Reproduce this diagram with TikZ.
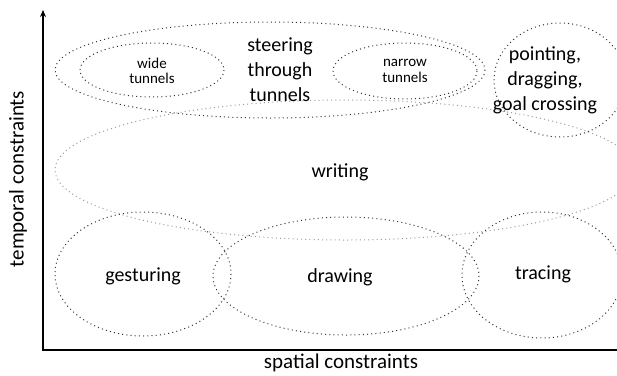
\documentclass[tikz,border=0pt]{standalone}
\usepackage{fontspec}
\setmainfont{Carlito}
\usetikzlibrary{arrows.meta}
\begin{document}
\begin{tikzpicture}[x=1pt,y=-1pt,
  blob/.style={line width=1pt,dash pattern=on 1pt off 3.2pt,draw=black!80},
  faint/.style={line width=1pt,dash pattern=on 1pt off 3.2pt,draw=black!40},
  lab/.style={font=\fontsize{20}{25}\selectfont,align=center,inner sep=0pt},
  axlab/.style={font=\fontsize{21}{25}\selectfont,inner sep=0pt},
  small/.style={font=\fontsize{15}{15.5}\selectfont,align=center,inner sep=0pt},
  axis/.style={line width=2pt}]
\useasboundingbox (0,0) rectangle (617,375);
\begin{scope}
\clip (0,0) rectangle (617,375);
% ellipses
\draw[faint] (345,170) ellipse [x radius=290, y radius=70];
\draw[blob] (270,70) ellipse [x radius=215, y radius=48];
\draw[blob] (152,70) ellipse [x radius=72, y radius=27];
\draw[blob] (405,71) ellipse [x radius=72, y radius=28];
\draw[blob] (560,80) ellipse [x radius=66, y radius=57];
\draw[blob] (143,274) ellipse [x radius=88, y radius=62];
\draw[blob] (346,276) ellipse [x radius=133, y radius=59];
\draw[blob] (542,275) ellipse [x radius=80, y radius=63];
\end{scope}
% axes
\coordinate (orig) at (43,350);
\coordinate (ytop) at (43,10);
\coordinate (xend) at (617,350);
\draw[axis,-{Stealth[length=7pt,width=6pt]}] ([yshift=-1pt]orig) -- (ytop);
\draw[axis] ([xshift=-1pt]orig) -- (xend);
% texts
\node[lab] (steer) at (280,70) {steering\\through\\tunnels};
\node[small] (wide) at (152,71) {wide\\tunnels};
\node[small] (narrow) at (405,71) {narrow\\tunnels};
\node[lab] (point) at (545,80) {pointing,\\dragging,\\goal crossing};
\node[lab] (writ) at (340,172) {writing};
\node[lab] (gest) at (143,276) {gesturing};
\node[lab] (drw) at (340,277) {drawing};
\node[lab] (trac) at (543,274) {tracing};
\node[axlab,rotate=90] (ylab) at (18,179) {temporal constraints};
\node[axlab] (xlab) at (341,363) {spatial constraints};
\end{tikzpicture}
\end{document}
